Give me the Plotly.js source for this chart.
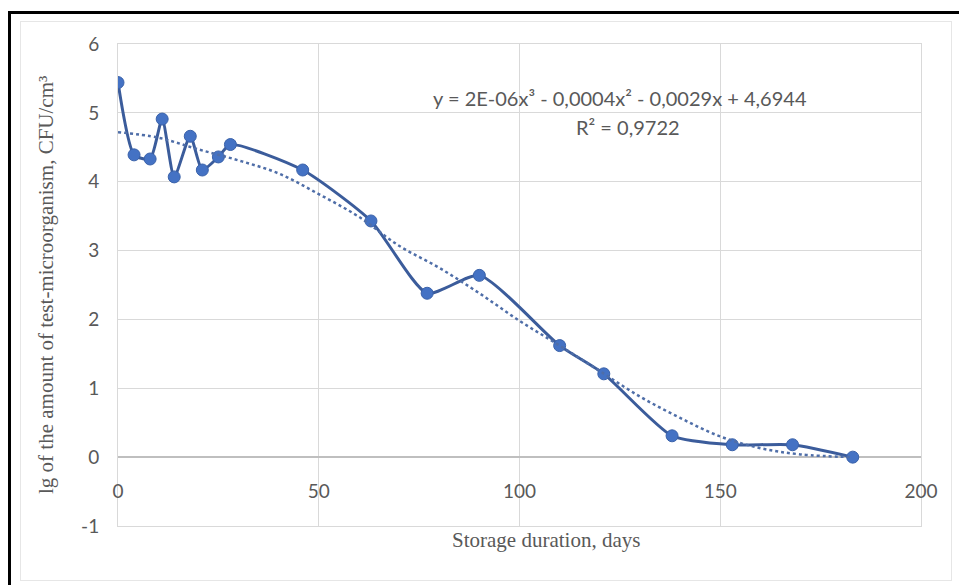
<!DOCTYPE html>
<html>
<head>
<meta charset="utf-8">
<script src="https://cdn.plot.ly/plotly-3.0.1.min.js"></script>
<style>
  html, body { margin: 0; padding: 0; background: #ffffff; }
  #wrap { position: relative; width: 959px; height: 585px; overflow: hidden; background: #fff; }
  #chart { position: absolute; left: 0; top: 0; width: 959px; height: 585px; }
  #frame { position: absolute; left: 8px; top: 11px; width: 960px; height: 600px;
           border-top: 3px solid #000; border-left: 3px solid #000; pointer-events: none; }
  #area { position: absolute; left: 20px; top: 21px; width: 930px; height: 558px;
          border: 1px solid #e6e6e6; pointer-events: none; }
</style>
</head>
<body>
<div id="wrap">
  <div id="chart"></div>
  <div id="area"></div>
  <div id="frame"></div>
</div>
<script>
// Observed data (storage duration in days vs lg of microorganism amount)
var days = [0, 4, 8, 11, 14, 18, 21, 25, 28, 46, 63, 77, 90, 110, 121, 138, 153, 168, 183];
var lgAmount = [5.44, 4.39, 4.33, 4.91, 4.07, 4.66, 4.17, 4.36, 4.54, 4.17, 3.43, 2.38, 2.64, 1.62, 1.21, 0.31, 0.18, 0.18, 0.0];

// Polynomial trendline
var trendDays = [0, 10, 20, 30, 40, 50, 60, 70, 80, 90, 100, 110, 120, 130, 140, 150, 160, 170, 183];
var trendValues = [4.72, 4.64, 4.47, 4.31, 4.12, 3.82, 3.49, 3.07, 2.75, 2.38, 1.98, 1.62, 1.25, 0.88, 0.57, 0.30, 0.13, 0.04, 0.0];

var xTicks = [0, 50, 100, 150, 200];
var yTicks = [-1, 0, 1, 2, 3, 4, 5, 6];

var equationText = "y = 2E-06x³ - 0,0004x² - 0,0029x + 4,6944";
var r2Text = "R² = 0,9722";
var xTitle = "Storage duration, days";
var yTitle = "lg of the amount of test-microorganism, CFU/cm³";

var sansFamily = "Lato, 'Open Sans', sans-serif";
var serifFamily = "'Liberation Serif', 'DejaVu Serif', serif";
var tickFont = { family: sansFamily, size: 19, color: "#595959" };
var titleFont = { family: serifFamily, size: 21, color: "#595959" };
var eqFont = { family: sansFamily, size: 20, color: "#595959" };

var traces = [
  {
    x: trendDays, y: trendValues, type: "scatter", mode: "lines",
    xaxis: "x2", yaxis: "y",
    line: { color: "#4f6ea8", width: 2.5, dash: "dot", shape: "spline", smoothing: 1 },
    hoverinfo: "skip", showlegend: false
  },
  {
    x: days, y: lgAmount, type: "scatter", mode: "lines+markers",
    xaxis: "x", yaxis: "y",
    line: { color: "#3b5c9b", width: 3, shape: "spline", smoothing: 0.6 },
    marker: { color: "#4472c4", size: 12, line: { color: "#3a62aa", width: 1 } },
    showlegend: false
  }
];

var layout = {
  width: 959, height: 585,
  margin: { l: 118, r: 38, t: 44, b: 59, pad: 0 },
  paper_bgcolor: "rgba(0,0,0,0)",
  plot_bgcolor: "#ffffff",
  showlegend: false,
  xaxis: {
    range: [0, 200], tickvals: xTicks, showticklabels: false,
    showgrid: true, gridcolor: "#d9d9d9", gridwidth: 1,
    zeroline: false, showline: true, linecolor: "#d9d9d9", mirror: true,
    ticks: "", fixedrange: true
  },
  xaxis2: {
    overlaying: "x", matches: "x", range: [0, 200], anchor: "free", position: 1 / 7,
    tickvals: xTicks, ticktext: xTicks.map(String),
    showgrid: false, zeroline: false, showline: false,
    ticks: "outside", ticklen: 17, tickcolor: "rgba(0,0,0,0)",
    tickfont: tickFont, side: "bottom"
  },
  yaxis: {
    range: [-1, 6], tickvals: yTicks, ticktext: yTicks.map(String),
    showgrid: true, gridcolor: "#d9d9d9", gridwidth: 1,
    zeroline: true, zerolinecolor: "#bfbfbf", zerolinewidth: 1.5,
    showline: true, linecolor: "#d9d9d9", mirror: true,
    ticks: "outside", ticklen: 14, tickcolor: "rgba(0,0,0,0)",
    tickfont: tickFont
  },
  annotations: [
    { text: equationText, xref: "x", yref: "paper", x: 125, y: (526 - 98) / 482,
      xanchor: "center", yanchor: "middle", showarrow: false, font: eqFont },
    { text: r2Text, xref: "x", yref: "paper", x: 127, y: (526 - 127) / 482,
      xanchor: "center", yanchor: "middle", showarrow: false, font: eqFont },
    { text: xTitle, xref: "paper", yref: "paper", x: (546 - 118) / 803, y: (526 - 540) / 482,
      xanchor: "center", yanchor: "middle", showarrow: false, font: titleFont },
    { text: yTitle, xref: "paper", yref: "paper", x: (46 - 118) / 803, y: (526 - 285) / 482,
      xanchor: "center", yanchor: "middle", textangle: -90, showarrow: false, font: titleFont }
  ]
};

Plotly.newPlot("chart", traces, layout, { staticPlot: true, displayModeBar: false });
</script>
</body>
</html>
